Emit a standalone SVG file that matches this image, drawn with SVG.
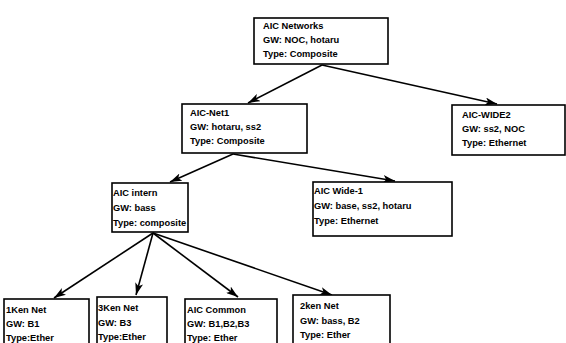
<svg xmlns="http://www.w3.org/2000/svg" width="566" height="343" viewBox="0 0 566 343">
  <style>
    .box { fill: #fff; stroke: #000; stroke-width: 1.6; }
    .lbl { font-family: "Liberation Sans", Arial, sans-serif; font-weight: bold; font-size: 9.3px; fill: #000; }
    .edge { stroke: #000; stroke-width: 1.6; fill: none; marker-end: url(#arr); }
  </style>
  <defs>
    <marker id="arr" viewBox="0 0 12 8" refX="12" refY="4" markerWidth="12" markerHeight="8" markerUnits="userSpaceOnUse" orient="auto">
      <path d="M0,0 L12,4 L0,8 L3,4 Z" fill="#000"/>
    </marker>
  </defs>
  <rect width="566" height="343" fill="#fff"/>

  <!-- connectors -->
  <g id="connectors">
    <line class="edge" x1="322" y1="65" x2="248" y2="103"/>
    <line class="edge" x1="322" y1="65" x2="497" y2="104"/>
    <line class="edge" x1="233" y1="154" x2="170" y2="182"/>
    <line class="edge" x1="233" y1="154" x2="395" y2="181"/>
    <line class="edge" x1="153" y1="233" x2="54" y2="298"/>
    <line class="edge" x1="153" y1="233" x2="136" y2="295"/>
    <line class="edge" x1="153" y1="233" x2="238" y2="297"/>
    <line class="edge" x1="153" y1="233" x2="332" y2="295"/>
  </g>

  <g id="aic-networks">
    <rect class="box" x="254" y="18" width="134" height="46"/>
    <text class="lbl" x="263" y="29">AIC Networks</text>
    <text class="lbl" x="263" y="43">GW: NOC, hotaru</text>
    <text class="lbl" x="263" y="57">Type: Composite</text>
  </g>

  <g id="aic-net1">
    <rect class="box" x="182" y="104" width="125" height="49"/>
    <text class="lbl" x="190" y="116">AIC-Net1</text>
    <text class="lbl" x="190" y="130">GW: hotaru, ss2</text>
    <text class="lbl" x="190" y="144">Type: Composite</text>
  </g>

  <g id="aic-wide2">
    <rect class="box" x="452" y="105" width="113" height="50"/>
    <text class="lbl" x="462" y="118">AIC-WIDE2</text>
    <text class="lbl" x="462" y="132">GW: ss2, NOC</text>
    <text class="lbl" x="462" y="146">Type: Ethernet</text>
  </g>

  <g id="aic-intern">
    <rect class="box" x="112" y="183" width="76" height="49"/>
    <text class="lbl" x="113" y="196">AIC intern</text>
    <text class="lbl" x="113" y="211">GW: bass</text>
    <text class="lbl" x="113" y="226">Type: composite</text>
  </g>

  <g id="aic-wide1">
    <rect class="box" x="313" y="182" width="139" height="54"/>
    <text class="lbl" x="314" y="194">AIC Wide-1</text>
    <text class="lbl" x="314" y="209">GW: base, ss2, hotaru</text>
    <text class="lbl" x="314" y="224">Type: Ethernet</text>
  </g>

  <g id="ken1">
    <rect class="box" x="4" y="299" width="85" height="60"/>
    <text class="lbl" x="6" y="313">1Ken Net</text>
    <text class="lbl" x="6" y="327">GW: B1</text>
    <text class="lbl" x="6" y="341">Type:Ether</text>
  </g>

  <g id="ken3">
    <rect class="box" x="97" y="297" width="70" height="60"/>
    <text class="lbl" x="98" y="311">3Ken Net</text>
    <text class="lbl" x="98" y="326">GW: B3</text>
    <text class="lbl" x="98" y="340">Type:Ether</text>
  </g>

  <g id="aic-common">
    <rect class="box" x="185" y="299" width="92" height="60"/>
    <text class="lbl" x="187" y="313">AIC Common</text>
    <text class="lbl" x="187" y="327">GW: B1,B2,B3</text>
    <text class="lbl" x="187" y="341">Type: Ether</text>
  </g>

  <g id="ken2">
    <rect class="box" x="293" y="295" width="97" height="60"/>
    <text class="lbl" x="300" y="309">2ken Net</text>
    <text class="lbl" x="300" y="324">GW: bass, B2</text>
    <text class="lbl" x="300" y="338">Type: Ether</text>
  </g>
</svg>
